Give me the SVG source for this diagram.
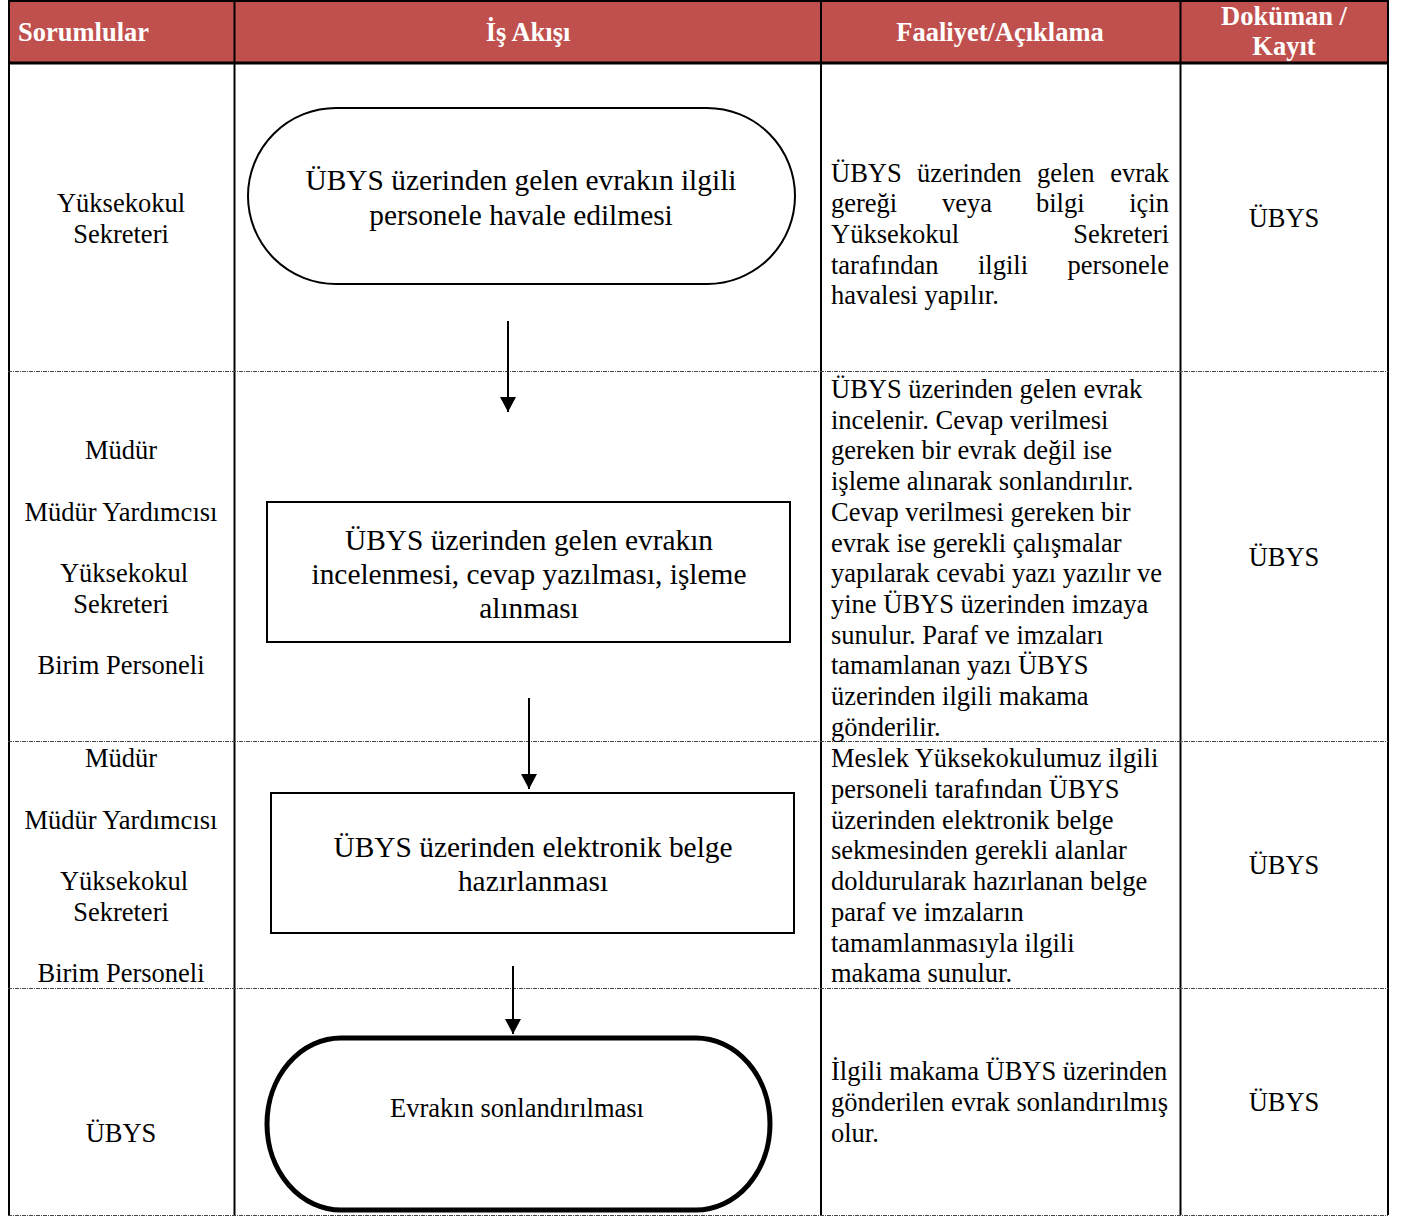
<svg xmlns="http://www.w3.org/2000/svg" width="1406" height="1217" viewBox="0 0 1406 1217">
<style>
text{font-family:"Liberation Serif","Times New Roman",serif;fill:#000}
.h{font-size:26.5px;font-weight:bold;fill:#fff}
.c{text-anchor:middle}
.e{text-anchor:end}
.s{font-size:26.5px}
.f{font-size:29.4px}
.grid{stroke:#000;stroke-width:2;fill:none}
.dot{stroke:#444;stroke-width:1;stroke-dasharray:4 1 1 1;fill:none}
.shape{fill:#fff;stroke:#000;stroke-width:2}
.shape.bold{stroke-width:5}
.conn{stroke:#000;stroke-width:2;fill:none}
</style>
<defs>
<marker id="ah" markerUnits="userSpaceOnUse" markerWidth="16" markerHeight="16" viewBox="0 0 16 16" refX="15" refY="8" orient="auto">
<path d="M0,0 L15,8 L0,16 Z" fill="#000"/>
</marker>
</defs>
<rect width="1406" height="1217" fill="#fff"/>
<g id="table">
<rect x="8" y="0" width="1380" height="63" fill="#C0504D"/>
<line class="grid" x1="8" y1="1" x2="1388" y2="1"/>
<line x1="8" y1="63" x2="1388" y2="63" stroke="#000" stroke-width="3"/>
<line class="grid" x1="9" y1="0" x2="9" y2="1215"/>
<line class="grid" x1="234.5" y1="0" x2="234.5" y2="1215"/>
<line class="grid" x1="821" y1="0" x2="821" y2="1215"/>
<line class="grid" x1="1180.5" y1="0" x2="1180.5" y2="1215"/>
<line class="grid" x1="1388" y1="0" x2="1388" y2="1215"/>
<line class="dot" x1="8" y1="371.5" x2="1388" y2="371.5"/>
<line class="dot" x1="8" y1="741.5" x2="1388" y2="741.5"/>
<line class="dot" x1="8" y1="988.5" x2="1388" y2="988.5"/>
<line class="dot" x1="8" y1="1215.5" x2="1388" y2="1215.5"/>
<text class="h" x="18" y="41">Sorumlular</text>
<text class="h c" x="528" y="41">İş Akışı</text>
<text class="h c" x="1000" y="41">Faaliyet/Açıklama</text>
<text class="h c" x="1284" y="25">Doküman /</text>
<text class="h c" x="1284" y="55">Kayıt</text>
</g>
<g id="responsible">
<text class="s c" x="121" y="212">Yüksekokul</text>
<text class="s c" x="121" y="243">Sekreteri</text>
<text class="s c" x="121" y="459">Müdür</text>
<text class="s c" x="121" y="521">Müdür Yardımcısı</text>
<text class="s c" x="124" y="582">Yüksekokul</text>
<text class="s c" x="121" y="613">Sekreteri</text>
<text class="s c" x="121" y="674">Birim Personeli</text>
<text class="s c" x="121" y="767">Müdür</text>
<text class="s c" x="121" y="829">Müdür Yardımcısı</text>
<text class="s c" x="124" y="890">Yüksekokul</text>
<text class="s c" x="121" y="921">Sekreteri</text>
<text class="s c" x="121" y="982">Birim Personeli</text>
<text class="s c" x="121" y="1142">ÜBYS</text>
</g>
<g id="connectors">
<line class="conn" x1="508" y1="321" x2="508" y2="412" marker-end="url(#ah)"/>
<line class="conn" x1="529" y1="698" x2="529" y2="789" marker-end="url(#ah)"/>
<line class="conn" x1="513" y1="966" x2="513" y2="1034" marker-end="url(#ah)"/>
</g>
<g id="node1">
<rect class="shape" x="248" y="108" width="547" height="176" rx="88" ry="88"/>
<text class="f c" x="521" y="190">ÜBYS üzerinden gelen evrakın ilgili</text>
<text class="f c" x="521" y="225">personele havale edilmesi</text>
</g>
<g id="node2">
<rect class="shape" x="267" y="502" width="523" height="140"/>
<text class="f c" x="529" y="550">ÜBYS üzerinden gelen evrakın</text>
<text class="f c" x="529" y="584">incelenmesi, cevap yazılması, işleme</text>
<text class="f c" x="529" y="618">alınması</text>
</g>
<g id="node3">
<rect class="shape" x="271" y="793" width="523" height="140"/>
<text class="f c" x="533" y="857">ÜBYS üzerinden elektronik belge</text>
<text class="f c" x="533" y="891">hazırlanması</text>
</g>
<g id="node4">
<rect class="shape bold" x="267" y="1038" width="503" height="172" rx="74" ry="86"/>
<text class="s c" x="517" y="1117">Evrakın sonlandırılması</text>
</g>
<g id="descriptions">
<text class="s" x="831" y="182">ÜBYS</text>
<text class="s" x="917" y="182">üzerinden</text>
<text class="s" x="1037" y="182">gelen</text>
<text class="s e" x="1169" y="182">evrak</text>
<text class="s" x="831" y="212">gereği</text>
<text class="s" x="942" y="212">veya</text>
<text class="s" x="1036" y="212">bilgi</text>
<text class="s e" x="1169" y="212">için</text>
<text class="s" x="831" y="243">Yüksekokul</text>
<text class="s e" x="1169" y="243">Sekreteri</text>
<text class="s" x="831" y="274">tarafından</text>
<text class="s" x="978" y="274">ilgili</text>
<text class="s e" x="1169" y="274">personele</text>
<text class="s" x="831" y="304">havalesi yapılır.</text>

<text class="s" x="831" y="398">ÜBYS üzerinden gelen evrak</text>
<text class="s" x="831" y="428.7">incelenir. Cevap verilmesi</text>
<text class="s" x="831" y="459.4">gereken bir evrak değil ise</text>
<text class="s" x="831" y="490.1">işleme alınarak sonlandırılır.</text>
<text class="s" x="831" y="520.8">Cevap verilmesi gereken bir</text>
<text class="s" x="831" y="551.5">evrak ise gerekli çalışmalar</text>
<text class="s" x="831" y="582.2">yapılarak cevabi yazı yazılır ve</text>
<text class="s" x="831" y="612.9">yine ÜBYS üzerinden imzaya</text>
<text class="s" x="831" y="643.6">sunulur. Paraf ve imzaları</text>
<text class="s" x="831" y="674.3">tamamlanan yazı ÜBYS</text>
<text class="s" x="831" y="705">üzerinden ilgili makama</text>
<text class="s" x="831" y="735.7">gönderilir.</text>

<text class="s" x="831" y="767">Meslek Yüksekokulumuz ilgili</text>
<text class="s" x="831" y="798">personeli tarafından ÜBYS</text>
<text class="s" x="831" y="829">üzerinden elektronik belge</text>
<text class="s" x="831" y="859">sekmesinden gerekli alanlar</text>
<text class="s" x="831" y="890">doldurularak hazırlanan belge</text>
<text class="s" x="831" y="921">paraf ve imzaların</text>
<text class="s" x="831" y="952">tamamlanmasıyla ilgili</text>
<text class="s" x="831" y="982">makama sunulur.</text>

<text class="s" x="831" y="1080">İlgili makama ÜBYS üzerinden</text>
<text class="s" x="831" y="1111">gönderilen evrak sonlandırılmış</text>
<text class="s" x="831" y="1142">olur.</text>
</g>
<g id="documents">
<text class="s c" x="1284" y="227">ÜBYS</text>
<text class="s c" x="1284" y="566">ÜBYS</text>
<text class="s c" x="1284" y="874">ÜBYS</text>
<text class="s c" x="1284" y="1111">ÜBYS</text>
</g>
</svg>
